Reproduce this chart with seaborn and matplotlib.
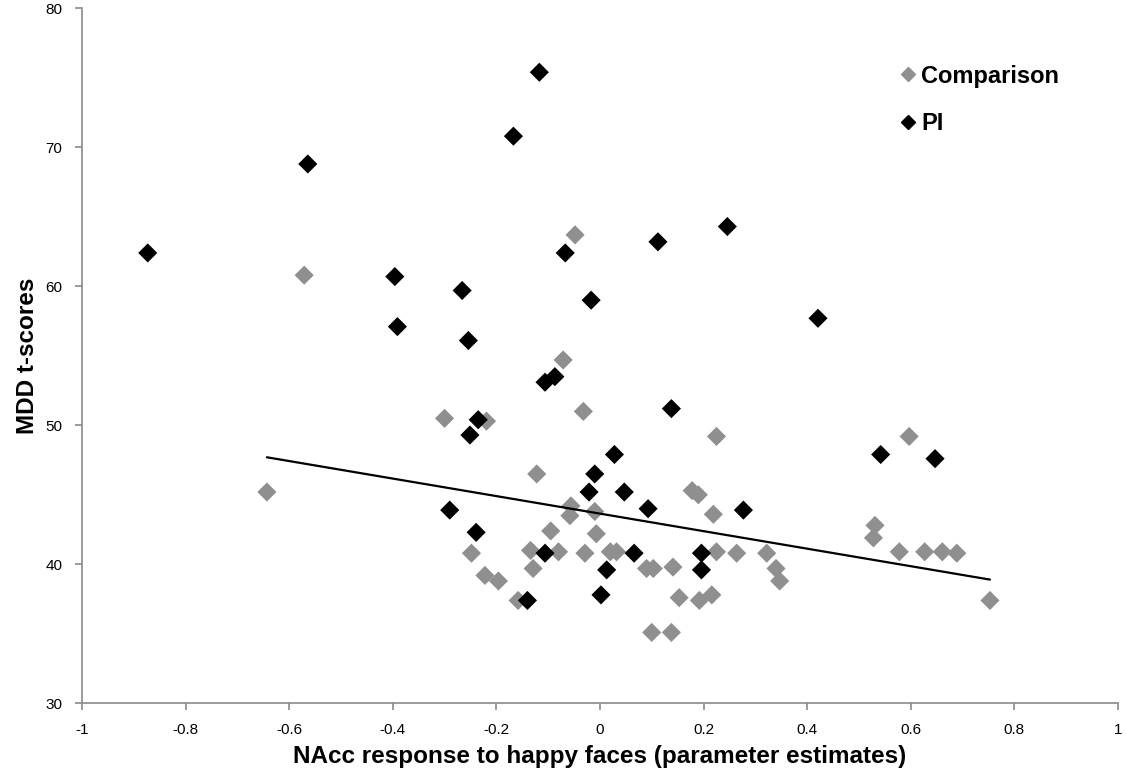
import pandas as pd
import matplotlib
matplotlib.use("Agg")
import matplotlib.pyplot as plt
import seaborn as sns

# Comparison group (gray)
comp_x = [-0.643, -0.571, -0.300, -0.048, -0.071, -0.219, -0.032, 0.225, -0.122,
          0.178, 0.190, -0.056, -0.058, -0.010, 0.219, -0.007, -0.095, -0.248,
          -0.134, -0.080, -0.029, 0.020, 0.032, 0.225, 0.264, 0.322, -0.129,
          0.090, 0.103, 0.141, 0.340, -0.222, -0.196, 0.347, -0.158, 0.153,
          0.192, 0.216, 0.100, 0.138, 0.597, 0.531, 0.528, 0.578, 0.627,
          0.661, 0.689, 0.753]
comp_y = [45.2, 60.8, 50.5, 63.7, 54.7, 50.3, 51.0, 49.2, 46.5,
          45.3, 45.0, 44.2, 43.5, 43.8, 43.6, 42.2, 42.4, 40.8,
          41.0, 40.9, 40.8, 40.9, 40.9, 40.9, 40.8, 40.8, 39.7,
          39.7, 39.7, 39.8, 39.7, 39.2, 38.8, 38.8, 37.4, 37.6,
          37.4, 37.8, 35.1, 35.1, 49.2, 42.8, 41.9, 40.9, 40.9,
          40.9, 40.8, 37.4]

# PI group (black)
pi_x = [-0.873, -0.564, -0.396, -0.391, -0.266, -0.254, -0.117, -0.167, -0.067,
        0.112, 0.246, -0.017, 0.421, -0.106, -0.087, -0.235, -0.251, 0.138,
        0.028, -0.010, -0.021, 0.047, 0.093, 0.277, -0.290, -0.239, -0.106,
        0.066, 0.196, 0.013, 0.196, -0.140, 0.002, 0.542, 0.647]
pi_y = [62.4, 68.8, 60.7, 57.1, 59.7, 56.1, 75.4, 70.8, 62.4,
        63.2, 64.3, 59.0, 57.7, 53.1, 53.5, 50.4, 49.3, 51.2,
        47.9, 46.5, 45.2, 45.2, 44.0, 43.9, 43.9, 42.3, 40.8,
        40.8, 40.8, 39.6, 39.6, 37.4, 37.8, 47.9, 47.6]

# linear trend line (as drawn in the original)
trend_x = [-0.643, 0.753]
trend_y = [47.7, 38.9]

x_ticks = [-1, -0.8, -0.6, -0.4, -0.2, 0, 0.2, 0.4, 0.6, 0.8, 1]
x_labels = ["-1", "-0.8", "-0.6", "-0.4", "-0.2", "0", "0.2", "0.4", "0.6", "0.8", "1"]
y_ticks = [30, 40, 50, 60, 70, 80]

df = pd.concat([
    pd.DataFrame({"x": comp_x, "y": comp_y, "group": "Comparison"}),
    pd.DataFrame({"x": pi_x, "y": pi_y, "group": "PI"}),
], ignore_index=True)

sns.set_style("white")
plt.rcParams["font.family"] = ["Liberation Sans", "DejaVu Sans"]
plt.rcParams["text.color"] = "black"
plt.rcParams["axes.labelcolor"] = "black"

fig = plt.figure(figsize=(11.26, 7.75), dpi=100)
ax = fig.add_axes([0.0728, 0.0925, 0.92, 0.8968])

palette = {"Comparison": "#8f8f8f", "PI": "#000000"}
sns.scatterplot(data=df, x="x", y="y", hue="group", palette=palette,
                marker="D", s=95, linewidth=0, ax=ax, legend=False)
sns.lineplot(x=trend_x, y=trend_y, color="black", linewidth=1.6, ax=ax)

ax.set_xlim(-1, 1)
ax.set_ylim(30, 80)
ax.set_xticks(x_ticks)
ax.set_xticklabels(x_labels)
ax.set_yticks(y_ticks)
ax.tick_params(axis="both", direction="out", length=5, width=1.2, color="#8a8a8a",
               labelsize=11, labelcolor="black", bottom=True, left=True)
ax.tick_params(axis="x", pad=9)
ax.tick_params(axis="y", pad=9)
for side in ["top", "right"]:
    ax.spines[side].set_visible(False)
for side in ["left", "bottom"]:
    ax.spines[side].set_color("#8a8a8a")
    ax.spines[side].set_linewidth(1.2)

ax.set_xlabel("NAcc response to happy faces (parameter estimates)",
              fontsize=17.5, fontweight="bold", labelpad=6)
ax.set_ylabel("MDD t-scores", fontsize=17.5, fontweight="bold", labelpad=5)

handles = [
    plt.Line2D([], [], marker="D", linestyle="", color=palette["Comparison"], markersize=7),
    plt.Line2D([], [], marker="D", linestyle="", color=palette["PI"], markersize=7),
]
ax.legend(handles, ["Comparison", "PI"], loc="upper left",
          bbox_to_anchor=(0.777, 0.944), bbox_transform=fig.transFigure,
          frameon=False, prop={"size": 17, "weight": "bold"},
          handletextpad=0.05, handlelength=1.0, labelspacing=1.05)

fig.savefig("out.png", dpi=100)
